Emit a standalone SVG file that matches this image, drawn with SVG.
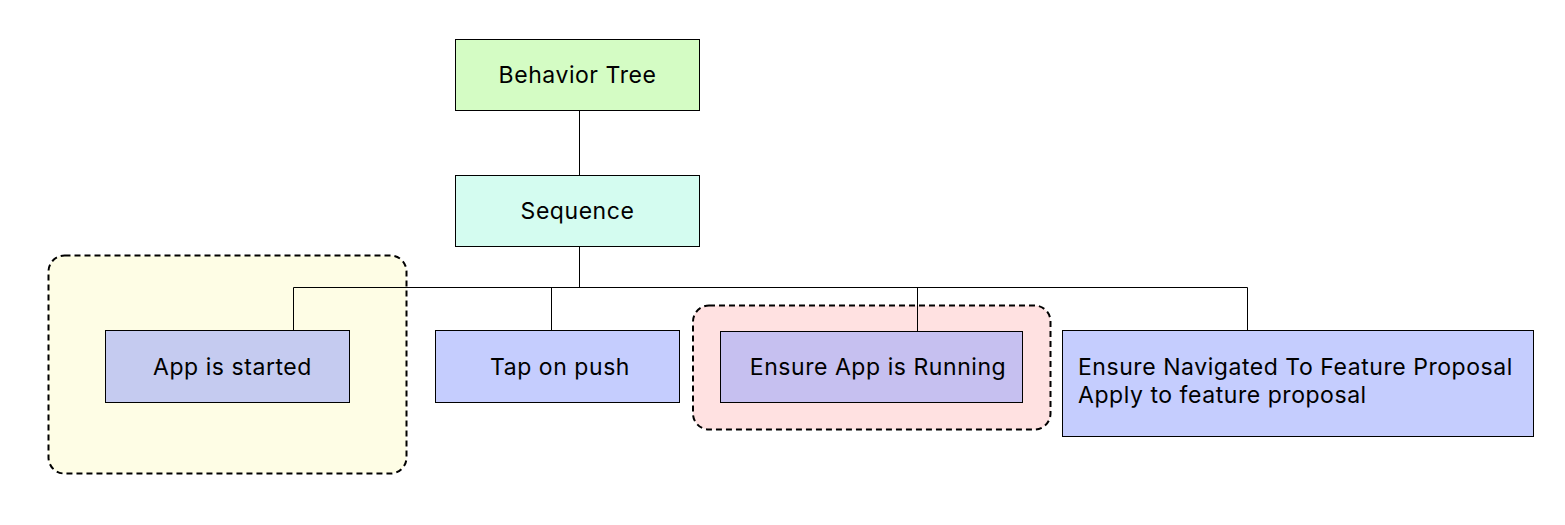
<svg xmlns="http://www.w3.org/2000/svg" width="1565" height="525" viewBox="0 0 1565 525">
<style>
.node{stroke:#000;stroke-width:1}
.grp{stroke:#000;stroke-width:2;stroke-dasharray:6 4}
.t{font-family:Inter,"Noto Sans","Liberation Sans",sans-serif;font-size:23px;font-weight:400;letter-spacing:0.55px;fill:#000}
.c{fill:none;stroke:#000;stroke-width:1}
</style>
<rect width="1565" height="525" fill="#fff"/>
<g id="group-app-started">
<rect class="grp" x="48.5" y="255.5" width="358" height="218" rx="16" fill="#fefde5"/>
</g>
<g id="group-ensure-running">
<rect class="grp" x="693" y="305.5" width="357.5" height="124" rx="16" fill="#ffe1e1"/>
</g>
<g id="connectors">
<path class="c" d="M579.5 111V175.5"/>
<path class="c" d="M579.5 247V287.5"/>
<path class="c" d="M293.5 330.5V287.5H1247.5V330"/>
<path class="c" d="M551.5 287.5V330.5"/>
<path class="c" d="M917.5 287.5V331.5"/>
</g>
<g id="behavior-tree">
<rect class="node" x="455.5" y="39.5" width="244" height="71" fill="#d4fcc4"/>
<text class="t" x="577.5" y="83" text-anchor="middle">Behavior Tree</text>
</g>
<g id="sequence">
<rect class="node" x="455.5" y="175.5" width="244" height="71" fill="#d4fcf0"/>
<text class="t" x="577.5" y="219" text-anchor="middle">Sequence</text>
</g>
<g id="app-is-started">
<rect class="node" x="105.5" y="330.5" width="244" height="72" fill="#c5cbf0"/>
<text class="t" x="232.5" y="375" text-anchor="middle">App is started</text>
</g>
<g id="tap-on-push">
<rect class="node" x="435.5" y="330.5" width="244" height="72" fill="#c5cdfe"/>
<text class="t" x="560" y="375" text-anchor="middle">Tap on push</text>
</g>
<g id="ensure-app-running">
<rect class="node" x="720.5" y="331.5" width="302" height="71" fill="#c6c0f0"/>
<text class="t" x="878" y="375" text-anchor="middle">Ensure App is Running</text>
</g>
<g id="ensure-navigated">
<rect class="node" x="1062.5" y="330.5" width="471" height="106" fill="#c5cdfe"/>
<text class="t" x="1078" y="375">Ensure Navigated To Feature Proposal</text>
<text class="t" x="1078" y="403">Apply to feature proposal</text>
</g>
</svg>
